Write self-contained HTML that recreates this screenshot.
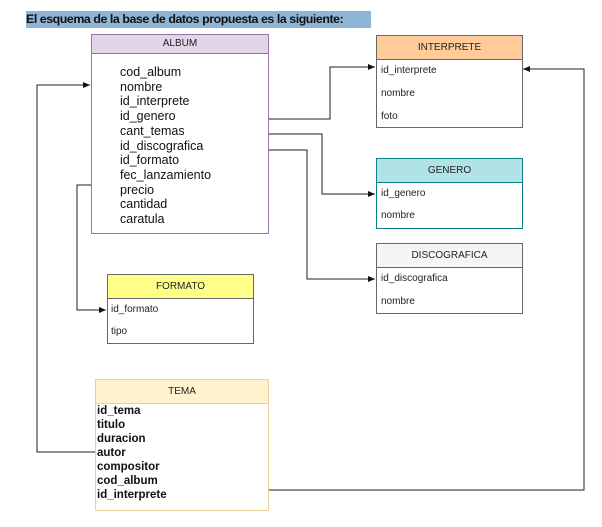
<!DOCTYPE html>
<html><head><style>
body{margin:0;width:602px;height:527px;background:#fff;position:relative;font-family:"Liberation Sans",Arial,sans-serif;overflow:hidden}
.t{position:absolute;left:26px;top:11px;height:17px;width:345px;background:#8eb4d6;font-weight:bold;font-size:12.4px;line-height:17px;color:#111;letter-spacing:-0.45px;white-space:nowrap;overflow:hidden}
.b{position:absolute;box-sizing:border-box;border:1px solid #666;background:#fff}
.h{box-sizing:border-box;border-bottom:1px solid #666;text-align:center;font-size:10px;color:#222;}
.f{position:absolute;font-size:10px;color:#222;white-space:nowrap}
.a{position:absolute;font-size:12.5px;color:#111;line-height:14.7px;font-weight:500}
.tm{position:absolute;font-size:11.5px;font-weight:bold;color:#111;line-height:14px}
</style></head><body>
<div class="t">El esquema de la base de datos propuesta es la siguiente:</div>
<svg width="602" height="527" style="position:absolute;left:0;top:0">
<defs><marker id="m" markerWidth="8" markerHeight="8" refX="7" refY="4" orient="auto" markerUnits="userSpaceOnUse"><path d="M0,1 L7,4 L0,7 Z" fill="#111"/></marker></defs>
<g fill="none" stroke="#222" stroke-width="1">
<path d="M96,452 H37 V85 H90" marker-end="url(#m)"/>
<path d="M91,185 H77 V310 H106" marker-end="url(#m)"/>
<path d="M268,119 H330 V67 H375" marker-end="url(#m)"/>
<path d="M268,134 H322 V194 H375" marker-end="url(#m)"/>
<path d="M268,150 H307 V279 H375" marker-end="url(#m)"/>
<path d="M268,490 H584 V69 H523" marker-end="url(#m)"/>
</g></svg>
<div class="b" style="left:91px;top:34px;width:178px;height:200px;border-color:#9673a6"><div class="h" style="height:19px;line-height:18px;background:#e1d5e7;border-color:#9673a6">ALBUM</div></div>
<div class="a" style="left:120px;top:65px">cod_album<br>nombre<br>id_interprete<br>id_genero<br>cant_temas<br>id_discografica<br>id_formato<br>fec_lanzamiento<br>precio<br>cantidad<br>caratula</div>
<div class="b" style="left:376px;top:35px;width:147px;height:93px"><div class="h" style="height:24px;line-height:23px;background:#ffcc99;border-color:#666">INTERPRETE</div></div>
<div class="f" style="left:381px;top:65px">id_interprete</div><div class="f" style="left:381px;top:88px">nombre</div><div class="f" style="left:381px;top:111px">foto</div>
<div class="b" style="left:376px;top:158px;width:147px;height:71px;border-color:#0e8088"><div class="h" style="height:24px;line-height:23px;background:#b0e3e6;border-color:#0e8088">GENERO</div></div>
<div class="f" style="left:381px;top:188px">id_genero</div><div class="f" style="left:381px;top:210px">nombre</div>
<div class="b" style="left:376px;top:243px;width:147px;height:71px"><div class="h" style="height:24px;line-height:23px;background:#f5f5f5">DISCOGRAFICA</div></div>
<div class="f" style="left:381px;top:273px">id_discografica</div><div class="f" style="left:381px;top:296px">nombre</div>
<div class="b" style="left:107px;top:274px;width:147px;height:70px"><div class="h" style="height:24px;line-height:23px;background:#ffff88">FORMATO</div></div>
<div class="f" style="left:111px;top:304px">id_formato</div><div class="f" style="left:111px;top:326px">tipo</div>
<div class="b" style="left:95px;top:379px;width:174px;height:132px;border-color:#e6d29a"><div class="h" style="height:24px;line-height:23px;background:#fff2cc;border-color:#e6d29a">TEMA</div></div>
<div class="tm" style="left:97px;top:404px">id_tema<br>titulo<br>duracion<br>autor<br>compositor<br>cod_album<br>id_interprete</div>
</body></html>
